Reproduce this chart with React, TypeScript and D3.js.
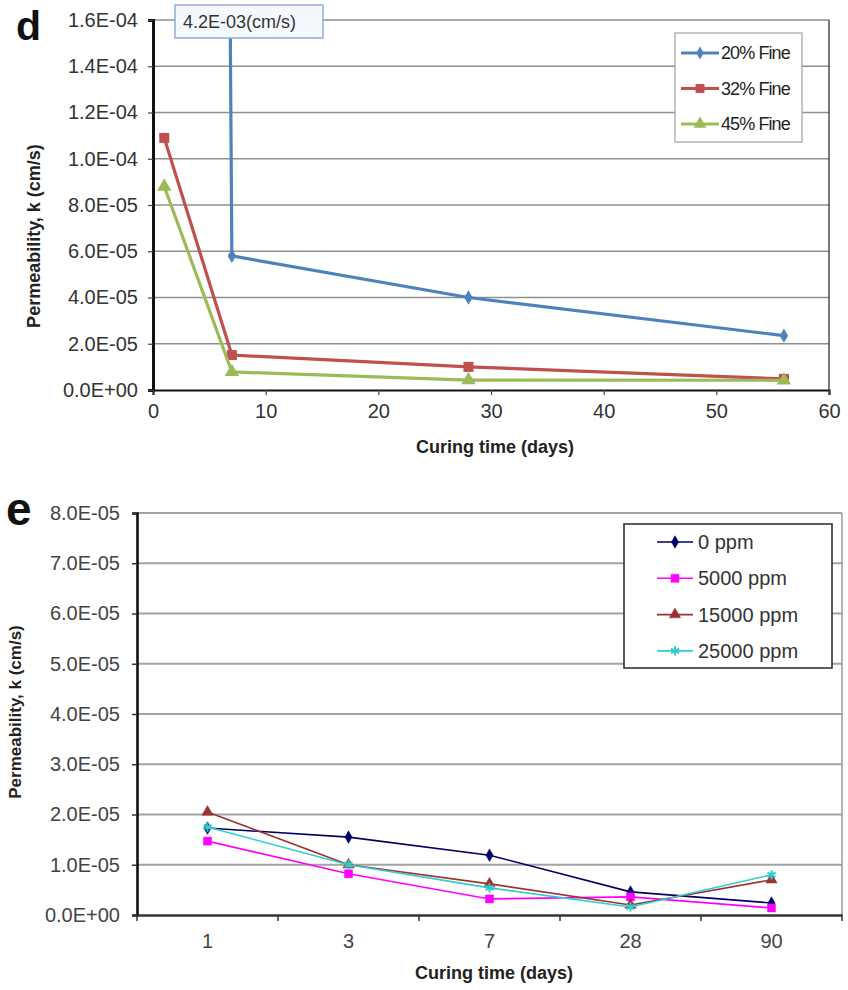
import React, { useEffect, useRef } from 'react';
import * as d3 from 'd3';

// panel d : permeability vs curing time for fine contents
const daysD = [1, 7, 28, 56];
const fine20 = [4.2e-3, 5.8e-5, 4.0e-5, 2.35e-5];
const fine32 = [1.09e-4, 1.51e-5, 1.0e-5, 0.48e-5];
const fine45 = [8.8e-5, 0.78e-5, 0.43e-5, 0.42e-5];
const xTicksD = [0, 10, 20, 30, 40, 50, 60];
const yTicksD = [0, 2e-5, 4e-5, 6e-5, 8e-5, 1e-4, 1.2e-4, 1.4e-4, 1.6e-4];
const seriesD = [
  { name: '20% Fine', values: fine20, color: '#4F81BD', symbol: d3.symbolDiamond, size: 60 },
  { name: '32% Fine', values: fine32, color: '#C0504D', symbol: d3.symbolSquare, size: 100 },
  { name: '45% Fine', values: fine45, color: '#9BBB59', symbol: d3.symbolTriangle, size: 90 },
];

// panel e : permeability vs curing time for salt contents
const daysE = ['1', '3', '7', '28', '90'];
const ppm0 = [1.73e-5, 1.55e-5, 1.19e-5, 0.46e-5, 0.24e-5];
const ppm5000 = [1.47e-5, 0.82e-5, 0.32e-5, 0.36e-5, 0.14e-5];
const ppm15000 = [2.05e-5, 1.0e-5, 0.62e-5, 0.2e-5, 0.7e-5];
const ppm25000 = [1.75e-5, 1.0e-5, 0.54e-5, 0.16e-5, 0.8e-5];
const yTicksE = [0, 1e-5, 2e-5, 3e-5, 4e-5, 5e-5, 6e-5, 7e-5, 8e-5];
const seriesE = [
  { name: '0 ppm', values: ppm0, color: '#000066', symbol: d3.symbolDiamond, size: 45, stroke: false },
  { name: '5000 ppm', values: ppm5000, color: '#FF00FF', symbol: d3.symbolSquare, size: 64, stroke: false },
  { name: '15000 ppm', values: ppm15000, color: '#993333', symbol: d3.symbolTriangle, size: 55, stroke: false },
  { name: '25000 ppm', values: ppm25000, color: '#33CCCC', symbol: d3.symbolAsterisk, size: 60, stroke: true },
];

const FONT = 'Liberation Sans, Arial, sans-serif';

const sci = (v: number) => {
  const [m, e] = v.toExponential(1).split('e');
  const n = Math.abs(parseInt(e, 10));
  return `${m}E${parseInt(e, 10) < 0 ? '-' : '+'}${n < 10 ? '0' + n : n}`;
};

export default function App() {
  const ref = useRef<SVGSVGElement>(null);

  useEffect(() => {
    const svg = d3.select(ref.current);
    svg.selectAll('*').remove();

    // ---------- panel d ----------
    const xD = d3.scaleLinear().domain([0, 60]).range([153, 829]);
    const yD = d3.scaleLinear().domain([0, 1.6e-4]).range([390, 20]);
    const gD = svg.append('g');

    gD.append('g')
      .selectAll('line')
      .data(yTicksD.slice(1))
      .join('line')
      .attr('x1', 153).attr('x2', 829)
      .attr('y1', d => yD(d)).attr('y2', d => yD(d))
      .attr('stroke', '#8f8f8f').attr('stroke-width', 1.6);

    gD.append('line')
      .attr('x1', 829).attr('x2', 829).attr('y1', 20).attr('y2', 390)
      .attr('stroke', '#222').attr('stroke-width', 1.2);

    const axLeftD = gD.append('g')
      .attr('transform', 'translate(153,0)')
      .call(d3.axisLeft(yD).tickValues(yTicksD).tickFormat(d => sci(+d)).tickSize(5).tickPadding(10));
    const axBotD = gD.append('g')
      .attr('transform', 'translate(0,390)')
      .call(d3.axisBottom(xD).tickValues(xTicksD).tickFormat(d3.format('d')).tickSize(5).tickPadding(9));
    [axLeftD, axBotD].forEach(ax => {
      ax.select('.domain').attr('stroke', '#111').attr('stroke-width', 3);
      ax.selectAll('.tick line').attr('stroke', '#444').attr('stroke-width', 1.2);
      ax.selectAll('.tick text').attr('font-family', FONT).attr('font-size', 20).attr('fill', '#333');
    });
    axBotD.select('.domain').attr('stroke-width', 2.2);

    svg.append('clipPath').attr('id', 'clipD')
      .append('rect').attr('x', 140).attr('y', 20).attr('width', 700).attr('height', 385);

    const lineD = d3.line<number>().x((_, i) => xD(daysD[i])).y(d => yD(d));
    seriesD.forEach(s => {
      const g = gD.append('g').attr('clip-path', 'url(#clipD)');
      g.append('path').attr('d', lineD(s.values)).attr('fill', 'none')
        .attr('stroke', s.color).attr('stroke-width', 3.2);
      g.selectAll('path.m').data(s.values).join('path').attr('class', 'm')
        .attr('transform', (d, i) => `translate(${xD(daysD[i])},${yD(d)})`)
        .attr('d', d3.symbol().type(s.symbol).size(s.size)())
        .attr('fill', s.color);
    });

    // off-scale value label
    gD.append('rect').attr('x', 175).attr('y', 5).attr('width', 148).attr('height', 33)
      .attr('fill', '#f5f9fd').attr('stroke', '#8eaed6').attr('stroke-width', 1.5);
    gD.append('text').attr('x', 183).attr('y', 28).text('4.2E-03(cm/s)')
      .attr('font-family', FONT).attr('font-size', 18).attr('fill', '#333');

    // legend d
    const legD = gD.append('g');
    legD.append('rect').attr('x', 675).attr('y', 33).attr('width', 127).attr('height', 109)
      .attr('fill', '#fff').attr('stroke', '#a8a8a8').attr('stroke-width', 1.3);
    seriesD.forEach((s, i) => {
      const y = 53 + i * 35.5;
      legD.append('line').attr('x1', 681).attr('x2', 719).attr('y1', y).attr('y2', y)
        .attr('stroke', s.color).attr('stroke-width', 3);
      legD.append('path').attr('transform', `translate(700,${y})`)
        .attr('d', d3.symbol().type(s.symbol).size(s.size * 0.8)()).attr('fill', s.color);
      legD.append('text').attr('x', 721).attr('y', y + 6).text(s.name)
        .attr('font-family', FONT).attr('font-size', 18).attr('letter-spacing', -0.9).attr('fill', '#222');
    });

    gD.append('text').attr('x', 16).attr('y', 40).text('d')
      .attr('font-family', FONT).attr('font-size', 41).attr('font-weight', 'bold').attr('fill', '#111');
    gD.append('text').attr('transform', 'translate(40,236) rotate(-90)').attr('text-anchor', 'middle')
      .text('Permeability, k (cm/s)')
      .attr('font-family', FONT).attr('font-size', 18).attr('font-weight', 'bold').attr('fill', '#222');
    gD.append('text').attr('x', 495).attr('y', 453).attr('text-anchor', 'middle')
      .text('Curing time (days)')
      .attr('font-family', FONT).attr('font-size', 18).attr('font-weight', 'bold').attr('fill', '#222');

    // ---------- panel e ----------
    const xE = d3.scaleBand().domain(daysE).range([137, 842]);
    const yE = d3.scaleLinear().domain([0, 8e-5]).range([915, 513]);
    const gE = svg.append('g');

    gE.append('g')
      .selectAll('line')
      .data(yTicksE.slice(1))
      .join('line')
      .attr('x1', 137).attr('x2', 842)
      .attr('y1', d => yE(d)).attr('y2', d => yE(d))
      .attr('stroke', '#a3a3a3').attr('stroke-width', 2.2);
    gE.append('line')
      .attr('x1', 842).attr('x2', 842).attr('y1', 513).attr('y2', 915)
      .attr('stroke', '#9a9a9a').attr('stroke-width', 1.5);

    const axLeftE = gE.append('g')
      .attr('transform', 'translate(137,0)')
      .call(d3.axisLeft(yE).tickValues(yTicksE).tickFormat(d => sci(+d)).tickSize(5).tickPadding(12));
    axLeftE.select('.domain').attr('stroke', '#111').attr('stroke-width', 2.6);
    axLeftE.selectAll('.tick line').attr('stroke', '#333').attr('stroke-width', 1.5);
    axLeftE.selectAll('.tick text').attr('font-family', FONT).attr('font-size', 20).attr('fill', '#444');

    const axBotE = gE.append('g')
      .attr('transform', 'translate(0,915)')
      .call(d3.axisBottom(xE).tickSize(0).tickPadding(19));
    axBotE.select('.domain').attr('stroke', '#333').attr('stroke-width', 2.4);
    axBotE.selectAll('.tick text').attr('font-family', FONT).attr('font-size', 20).attr('fill', '#444');
    // tick marks on category boundaries
    gE.append('g').selectAll('line')
      .data([...daysE.map(c => xE(c) as number), 842])
      .join('line')
      .attr('x1', d => d).attr('x2', d => d).attr('y1', 915).attr('y2', 921)
      .attr('stroke', '#333').attr('stroke-width', 1.5);

    const lineE = d3.line<number>()
      .x((_, i) => (xE(daysE[i]) as number) + xE.bandwidth() / 2)
      .y(d => yE(d));
    seriesE.forEach(s => {
      const g = gE.append('g');
      g.append('path').attr('d', lineE(s.values)).attr('fill', 'none')
        .attr('stroke', s.color).attr('stroke-width', 1.6);
      g.selectAll('path.m').data(s.values).join('path').attr('class', 'm')
        .attr('transform', (d, i) => `translate(${(xE(daysE[i]) as number) + xE.bandwidth() / 2},${yE(d)})`)
        .attr('d', d3.symbol().type(s.symbol).size(s.size)())
        .attr('fill', s.stroke ? 'none' : s.color)
        .attr('stroke', s.color).attr('stroke-width', s.stroke ? 2 : 0.5);
    });

    // legend e
    const legE = gE.append('g');
    legE.append('rect').attr('x', 624).attr('y', 524).attr('width', 208).attr('height', 144)
      .attr('fill', '#fff').attr('stroke', '#333').attr('stroke-width', 1.6);
    seriesE.forEach((s, i) => {
      const y = 542 + i * 36.3;
      legE.append('line').attr('x1', 657).attr('x2', 693).attr('y1', y).attr('y2', y)
        .attr('stroke', s.color).attr('stroke-width', 1.6);
      legE.append('path').attr('transform', `translate(675,${y})`)
        .attr('d', d3.symbol().type(s.symbol).size(s.size)())
        .attr('fill', s.stroke ? 'none' : s.color)
        .attr('stroke', s.color).attr('stroke-width', s.stroke ? 2 : 0.5);
      legE.append('text').attr('x', 698).attr('y', y + 7).text(s.name)
        .attr('font-family', FONT).attr('font-size', 20).attr('fill', '#333');
    });

    gE.append('text').attr('x', 6).attr('y', 525).text('e')
      .attr('font-family', FONT).attr('font-size', 46).attr('font-weight', 'bold').attr('fill', '#111');
    gE.append('text').attr('transform', 'translate(21,712) rotate(-90)').attr('text-anchor', 'middle')
      .text('Permeability, k (cm/s)')
      .attr('font-family', FONT).attr('font-size', 17).attr('font-weight', 'bold').attr('fill', '#222');
    gE.append('text').attr('x', 494).attr('y', 979).attr('text-anchor', 'middle')
      .text('Curing time (days)')
      .attr('font-family', FONT).attr('font-size', 18).attr('font-weight', 'bold').attr('fill', '#222');
  }, []);

  return (
    <svg ref={ref} width={848} height={990}
      style={{ position: 'absolute', left: 0, top: 0, background: '#fff' }} />
  );
}
